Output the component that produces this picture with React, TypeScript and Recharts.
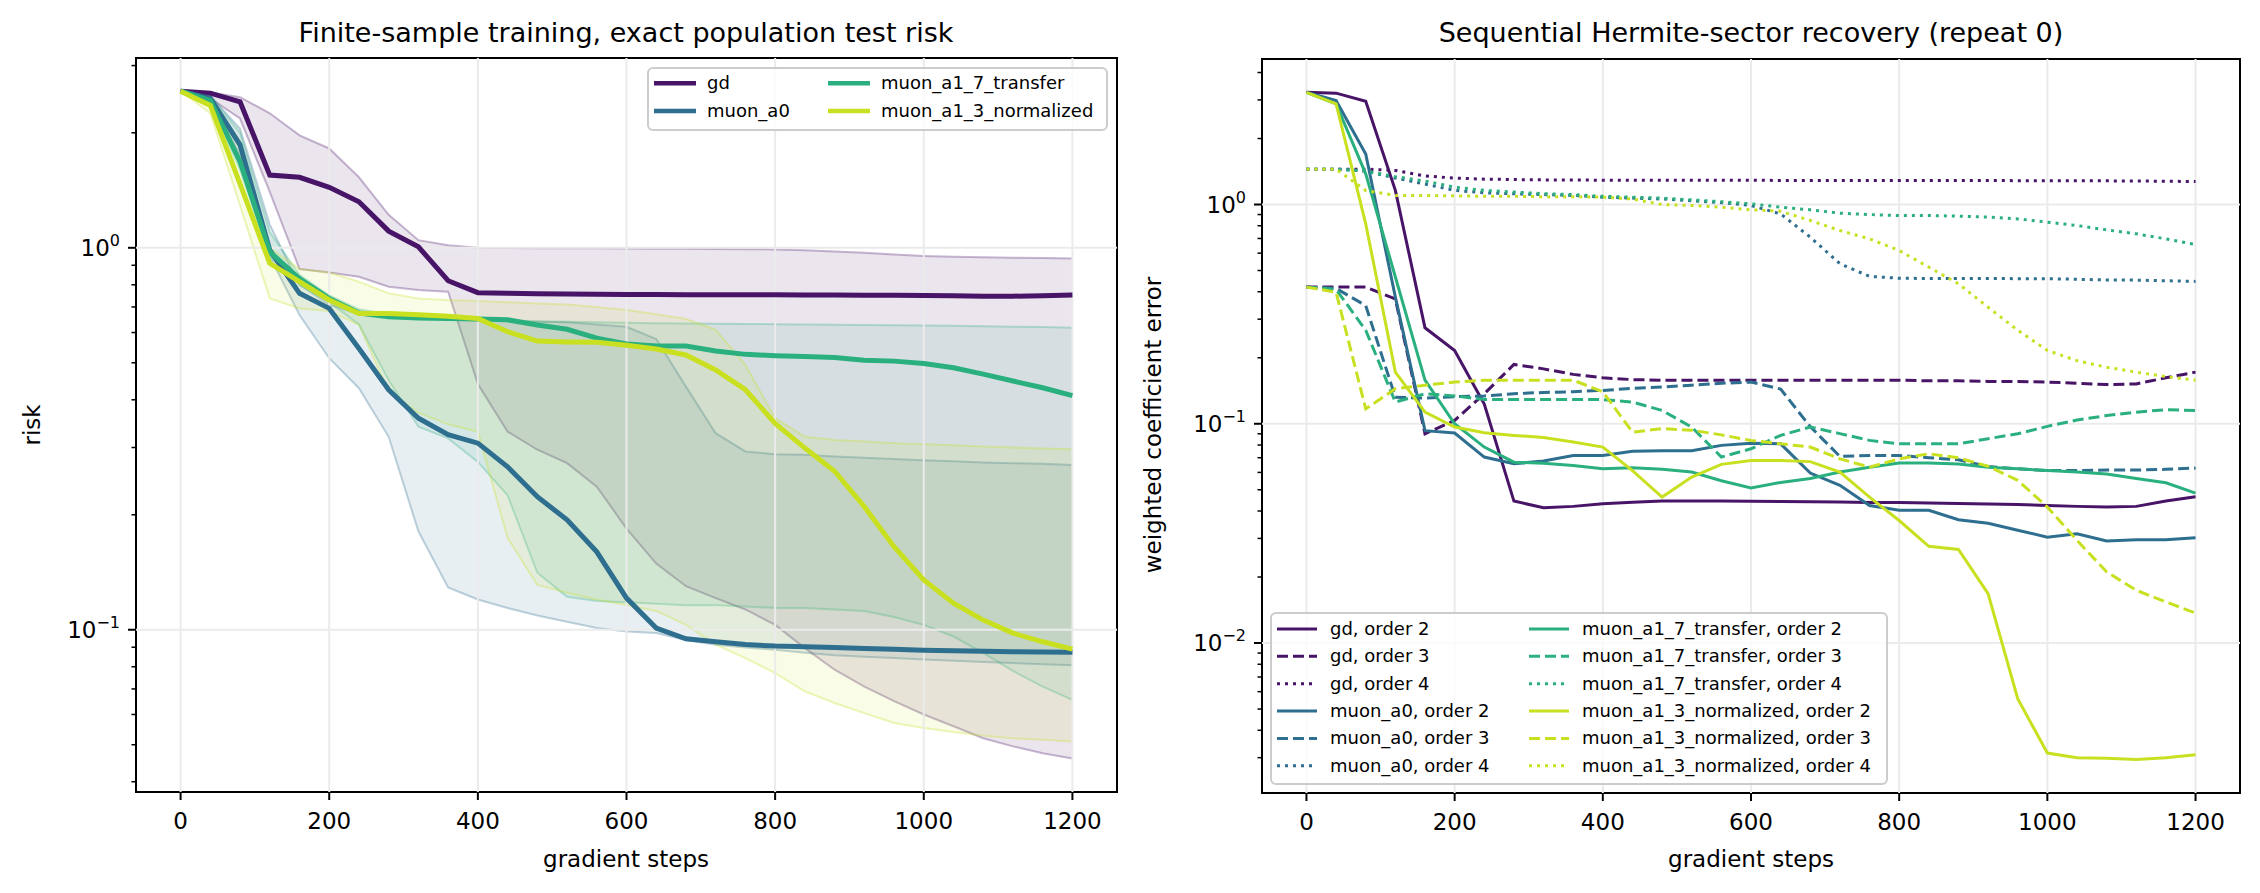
import React from 'react';
import { Area, ComposedChart, Line, ReferenceArea, ReferenceLine, XAxis, YAxis } from 'recharts';

// gradient steps (x)
const steps = [0, 40, 80, 120, 160, 200, 240, 280, 320, 360, 400, 440, 480, 520, 560, 600, 640, 680, 720, 760, 800, 840, 880, 920, 960, 1000, 1040, 1080, 1120, 1160, 1200];
const xTicks = [0, 200, 400, 600, 800, 1000, 1200];

// left panel: mean risk and band (lower / upper)
const gdMean = [2.57, 2.54, 2.41, 1.55, 1.53, 1.44, 1.32, 1.106, 1.006, 0.82, 0.763, 0.76, 0.758, 0.757, 0.756, 0.755, 0.755, 0.754, 0.754, 0.753, 0.753, 0.752, 0.752, 0.751, 0.751, 0.75, 0.749, 0.747, 0.747, 0.749, 0.752];
const gdUpper = [2.57, 2.55, 2.48, 2.25, 1.97, 1.82, 1.53, 1.22, 1.047, 1.016, 1.0, 0.999, 0.998, 0.998, 0.997, 0.996, 0.995, 0.994, 0.993, 0.992, 0.99, 0.985, 0.978, 0.97, 0.96, 0.952, 0.947, 0.944, 0.942, 0.94, 0.938];
const gdLower = [2.57, 2.46, 2.18, 1.4, 0.88, 0.862, 0.84, 0.791, 0.775, 0.767, 0.44, 0.33, 0.296, 0.273, 0.237, 0.184, 0.149, 0.13, 0.121, 0.113, 0.103, 0.0895, 0.0786, 0.071, 0.065, 0.06, 0.0559, 0.052, 0.0495, 0.0475, 0.046];

const a0Mean = [2.57, 2.46, 1.86, 0.986, 0.76, 0.694, 0.545, 0.425, 0.358, 0.324, 0.308, 0.267, 0.223, 0.194, 0.16, 0.121, 0.101, 0.0947, 0.093, 0.0915, 0.0906, 0.0902, 0.0898, 0.0893, 0.0889, 0.0884, 0.0881, 0.0878, 0.0876, 0.0874, 0.0873];
const a0Upper = [2.57, 2.5, 2.05, 1.15, 0.8, 0.71, 0.67, 0.665, 0.655, 0.65, 0.645, 0.642, 0.64, 0.638, 0.63, 0.621, 0.577, 0.433, 0.327, 0.293, 0.288, 0.287, 0.284, 0.282, 0.28, 0.278, 0.276, 0.274, 0.273, 0.272, 0.27];
const a0Lower = [2.57, 2.44, 1.75, 0.95, 0.667, 0.514, 0.429, 0.32, 0.181, 0.129, 0.12, 0.114, 0.109, 0.105, 0.101, 0.099, 0.098, 0.094, 0.0914, 0.0898, 0.0886, 0.087, 0.0857, 0.085, 0.0843, 0.0836, 0.083, 0.0823, 0.0818, 0.0812, 0.0807];

const trMean = [2.57, 2.43, 1.68, 0.976, 0.83, 0.737, 0.675, 0.66, 0.655, 0.653, 0.651, 0.648, 0.628, 0.612, 0.58, 0.56, 0.553, 0.553, 0.537, 0.526, 0.522, 0.519, 0.516, 0.508, 0.505, 0.498, 0.485, 0.467, 0.448, 0.43, 0.41];
const trUpper = [2.57, 2.5, 2.0, 1.1, 0.85, 0.75, 0.69, 0.67, 0.66, 0.655, 0.65, 0.645, 0.642, 0.64, 0.638, 0.636, 0.635, 0.634, 0.633, 0.632, 0.631, 0.63, 0.629, 0.628, 0.627, 0.626, 0.625, 0.623, 0.621, 0.62, 0.618];
const trLower = [2.57, 2.4, 1.6, 0.95, 0.8, 0.72, 0.63, 0.45, 0.34, 0.317, 0.275, 0.225, 0.141, 0.122, 0.119, 0.118, 0.117, 0.116, 0.116, 0.115, 0.114, 0.114, 0.113, 0.112, 0.108, 0.103, 0.096, 0.087, 0.078, 0.071, 0.0655];

const nmMean = [2.57, 2.36, 1.47, 0.91, 0.815, 0.73, 0.673, 0.673, 0.668, 0.662, 0.653, 0.603, 0.57, 0.567, 0.566, 0.556, 0.543, 0.524, 0.479, 0.425, 0.347, 0.299, 0.26, 0.21, 0.165, 0.135, 0.1174, 0.106, 0.098, 0.093, 0.089];
const nmUpper = [2.57, 2.45, 1.9, 1.0, 0.88, 0.862, 0.815, 0.76, 0.737, 0.73, 0.726, 0.72, 0.715, 0.71, 0.7, 0.687, 0.67, 0.651, 0.61, 0.493, 0.358, 0.32, 0.314, 0.311, 0.308, 0.306, 0.304, 0.302, 0.3, 0.298, 0.297];
const nmLower = [2.57, 2.25, 1.29, 0.737, 0.694, 0.683, 0.628, 0.42, 0.37, 0.345, 0.33, 0.174, 0.131, 0.125, 0.12, 0.116, 0.112, 0.103, 0.0914, 0.0843, 0.077, 0.069, 0.0643, 0.0605, 0.057, 0.0553, 0.054, 0.0528, 0.052, 0.0515, 0.051];

// right panel: weighted coefficient error per Hermite order
const gd2 = [3.25, 3.22, 2.96, 1.16, 0.274, 0.216, 0.123, 0.0444, 0.0414, 0.042, 0.0432, 0.0439, 0.0444, 0.0444, 0.0444, 0.0443, 0.0442, 0.0441, 0.044, 0.0438, 0.0437, 0.0435, 0.0433, 0.0431, 0.0428, 0.0424, 0.042, 0.0417, 0.042, 0.0444, 0.0465];
const gd3 = [0.42, 0.42, 0.42, 0.371, 0.09, 0.1036, 0.137, 0.1865, 0.178, 0.168, 0.162, 0.159, 0.158, 0.158, 0.158, 0.158, 0.158, 0.158, 0.158, 0.158, 0.158, 0.157, 0.157, 0.156, 0.156, 0.155, 0.153, 0.151, 0.152, 0.162, 0.172];
const gd4 = [1.45, 1.45, 1.45, 1.43, 1.35, 1.32, 1.305, 1.3, 1.295, 1.295, 1.29, 1.29, 1.29, 1.29, 1.29, 1.29, 1.288, 1.288, 1.288, 1.287, 1.287, 1.286, 1.286, 1.286, 1.285, 1.285, 1.284, 1.282, 1.28, 1.277, 1.273];
const a02 = [3.25, 2.98, 1.7, 0.378, 0.093, 0.0907, 0.0705, 0.0657, 0.0676, 0.0717, 0.0717, 0.075, 0.0753, 0.0753, 0.0797, 0.0816, 0.081, 0.0596, 0.0524, 0.0424, 0.0403, 0.0403, 0.0365, 0.0352, 0.0327, 0.0304, 0.0315, 0.0292, 0.0296, 0.0296, 0.0302];
const a03 = [0.42, 0.414, 0.346, 0.132, 0.131, 0.133, 0.134, 0.137, 0.139, 0.14, 0.142, 0.145, 0.147, 0.15, 0.153, 0.155, 0.144, 0.097, 0.071, 0.0717, 0.0717, 0.07, 0.0685, 0.0638, 0.0623, 0.0612, 0.0612, 0.0615, 0.0615, 0.062, 0.0628];
const a04 = [1.45, 1.45, 1.42, 1.32, 1.24, 1.16, 1.13, 1.12, 1.11, 1.1, 1.08, 1.07, 1.06, 1.04, 1.02, 0.99, 0.906, 0.71, 0.537, 0.47, 0.461, 0.46, 0.46, 0.46, 0.459, 0.459, 0.456, 0.453, 0.452, 0.449, 0.446];
const tr2 = [3.25, 2.88, 1.38, 0.467, 0.158, 0.1, 0.0783, 0.0668, 0.066, 0.0645, 0.0623, 0.063, 0.062, 0.0602, 0.055, 0.051, 0.054, 0.0563, 0.0602, 0.0634, 0.0662, 0.0662, 0.0655, 0.0634, 0.0623, 0.0612, 0.0602, 0.059, 0.0563, 0.0538, 0.0483];
const tr3 = [0.42, 0.41, 0.267, 0.1256, 0.137, 0.134, 0.129, 0.129, 0.129, 0.129, 0.129, 0.1256, 0.115, 0.0966, 0.0705, 0.0769, 0.0885, 0.0966, 0.0902, 0.084, 0.081, 0.081, 0.081, 0.0855, 0.09, 0.0973, 0.104, 0.109, 0.113, 0.116, 0.115];
const tr4 = [1.45, 1.45, 1.42, 1.34, 1.28, 1.2, 1.16, 1.14, 1.12, 1.11, 1.09, 1.08, 1.07, 1.05, 1.03, 1.007, 0.973, 0.946, 0.913, 0.9, 0.891, 0.891, 0.885, 0.876, 0.86, 0.831, 0.802, 0.766, 0.735, 0.697, 0.657];
const nm2 = [3.25, 2.88, 0.816, 0.172, 0.113, 0.0966, 0.091, 0.0885, 0.0866, 0.0825, 0.0783, 0.0612, 0.0463, 0.0571, 0.0653, 0.068, 0.068, 0.0672, 0.0602, 0.0463, 0.0362, 0.0276, 0.0267, 0.0168, 0.00557, 0.00315, 0.003, 0.00298, 0.00294, 0.003, 0.00309];
const nm3 = [0.42, 0.398, 0.117, 0.1445, 0.15, 0.155, 0.158, 0.158, 0.158, 0.158, 0.14, 0.0916, 0.095, 0.0935, 0.089, 0.0839, 0.081, 0.0783, 0.0692, 0.0634, 0.0692, 0.073, 0.0699, 0.064, 0.0552, 0.0417, 0.0294, 0.0211, 0.0174, 0.0154, 0.0137];
const nm4 = [1.45, 1.45, 1.158, 1.1, 1.1, 1.095, 1.09, 1.09, 1.085, 1.085, 1.08, 1.06, 1.0, 0.99, 0.972, 0.946, 0.932, 0.846, 0.761, 0.697, 0.617, 0.518, 0.435, 0.34, 0.267, 0.216, 0.194, 0.181, 0.172, 0.164, 0.158];

const leftYTicks = [0.04, 0.05, 0.06, 0.07, 0.08, 0.09, 0.1, 0.2, 0.3, 0.4, 0.5, 0.6, 0.7, 0.8, 0.9, 1, 2, 3];
const rightYTicks = [0.003, 0.004, 0.005, 0.006, 0.007, 0.008, 0.009, 0.01, 0.02, 0.03, 0.04, 0.05, 0.06, 0.07, 0.08, 0.09, 0.1, 0.2, 0.3, 0.4, 0.5, 0.6, 0.7, 0.8, 0.9, 1, 2, 3, 4];

const C_GD = '#481467';
const C_A0 = '#2e6e8e';
const C_TR = '#2ab07f';
const C_NM = '#c8e020';
const FONT = 'DejaVu Sans';
const DASHED = '11 5';
const DOTTED = '3 5';

const leftRows = steps.map((s, i) => ({
    step: s,
    gd: gdMean[i], gdBand: [gdLower[i], gdUpper[i]],
    a0: a0Mean[i], a0Band: [a0Lower[i], a0Upper[i]],
    tr: trMean[i], trBand: [trLower[i], trUpper[i]],
    nm: nmMean[i], nmBand: [nmLower[i], nmUpper[i]],
}));

const rightRows = steps.map((s, i) => ({
    step: s,
    gd2: gd2[i], gd3: gd3[i], gd4: gd4[i],
    a02: a02[i], a03: a03[i], a04: a04[i],
    tr2: tr2[i], tr3: tr3[i], tr4: tr4[i],
    nm2: nm2[i], nm3: nm3[i], nm4: nm4[i],
}));

const leftSeries = [
    { key: 'gd', band: 'gdBand', color: C_GD, name: 'gd' },
    { key: 'a0', band: 'a0Band', color: C_A0, name: 'muon_a0' },
    { key: 'tr', band: 'trBand', color: C_TR, name: 'muon_a1_7_transfer' },
    { key: 'nm', band: 'nmBand', color: C_NM, name: 'muon_a1_3_normalized' },
];

const rightSeries = [
    { key: 'gd2', color: C_GD, dash: undefined, name: 'gd, order 2' },
    { key: 'gd3', color: C_GD, dash: DASHED, name: 'gd, order 3' },
    { key: 'gd4', color: C_GD, dash: DOTTED, name: 'gd, order 4' },
    { key: 'a02', color: C_A0, dash: undefined, name: 'muon_a0, order 2' },
    { key: 'a03', color: C_A0, dash: DASHED, name: 'muon_a0, order 3' },
    { key: 'a04', color: C_A0, dash: DOTTED, name: 'muon_a0, order 4' },
    { key: 'tr2', color: C_TR, dash: undefined, name: 'muon_a1_7_transfer, order 2' },
    { key: 'tr3', color: C_TR, dash: DASHED, name: 'muon_a1_7_transfer, order 3' },
    { key: 'tr4', color: C_TR, dash: DOTTED, name: 'muon_a1_7_transfer, order 4' },
    { key: 'nm2', color: C_NM, dash: undefined, name: 'muon_a1_3_normalized, order 2' },
    { key: 'nm3', color: C_NM, dash: DASHED, name: 'muon_a1_3_normalized, order 3' },
    { key: 'nm4', color: C_NM, dash: DOTTED, name: 'muon_a1_3_normalized, order 4' },
];

const XTick = (props: any) => {
    const { x, y, payload } = props;
    return (
        <g>
            <line x1={x} x2={x} y1={y} y2={y + 8} stroke="#000" strokeWidth={2} />
            <text x={x} y={y + 37} textAnchor="middle" fontSize={23} fontFamily={FONT} fill="#000">{payload.value}</text>
        </g>
    );
};

const LogTick = (props: any) => {
    const { x, y, payload } = props;
    const lg = Math.log10(payload.value);
    const exp = Math.round(lg);
    const major = Math.abs(lg - exp) < 1e-6;
    return (
        <g>
            <line x1={x} x2={x - (major ? 8 : 4.5)} y1={y} y2={y} stroke="#000" strokeWidth={major ? 2 : 1.5} />
            {major && (
                <text x={x - 16} y={y + 8} textAnchor="end" fontSize={23} fontFamily={FONT} fill="#000">
                    10<tspan dy={-10} fontSize={16}>{exp === 0 ? '0' : '\u2212' + Math.abs(exp)}</tspan>
                </text>
            )}
        </g>
    );
};

const gridStroke = '#ebebeb';

const LeftPanel = () => (
    <ComposedChart width={1130} height={893} data={leftRows} margin={{ top: 58, right: 13, bottom: 0, left: 0 }}>
        <XAxis dataKey="step" type="number" domain={[-60, 1260]} ticks={xTicks} interval={0} height={101}
            axisLine={false} tickLine={false} tickSize={0} tickMargin={0} tick={<XTick />} allowDataOverflow />
        <YAxis scale="log" type="number" domain={[0.0376, 3.14]} ticks={leftYTicks} interval={0} width={136}
            axisLine={false} tickLine={false} tickSize={0} tickMargin={0} tick={<LogTick />} allowDataOverflow />
        {xTicks.map(t => <ReferenceLine key={'vx' + t} x={t} stroke={gridStroke} strokeWidth={2} />)}
        {[0.1, 1].map(t => <ReferenceLine key={'hy' + t} y={t} stroke={gridStroke} strokeWidth={2} />)}
        {leftSeries.map(s => [
            <Area key={s.band} dataKey={s.band} type="linear" fill={s.color} fillOpacity={0.11}
                stroke={s.color} strokeOpacity={0.3} strokeWidth={2} dot={false} activeDot={false} isAnimationActive={false} />,
            <Line key={s.key} dataKey={s.key} type="linear" stroke={s.color} strokeWidth={5}
                dot={false} activeDot={false} isAnimationActive={false} />,
        ])}
        <ReferenceArea x1={-60} x2={1260} y1={0.0376} y2={3.14} fill="none" stroke="#000" strokeWidth={2} ifOverflow="visible" />
    </ComposedChart>
);

const RightPanel = () => (
    <ComposedChart width={1130} height={893} data={rightRows} margin={{ top: 59, right: 20, bottom: 0, left: 0 }}>
        <XAxis dataKey="step" type="number" domain={[-60, 1260]} ticks={xTicks} interval={0} height={100}
            axisLine={false} tickLine={false} tickSize={0} tickMargin={0} tick={<XTick />} allowDataOverflow />
        <YAxis scale="log" type="number" domain={[0.00207, 4.61]} ticks={rightYTicks} interval={0} width={132}
            axisLine={false} tickLine={false} tickSize={0} tickMargin={0} tick={<LogTick />} allowDataOverflow />
        {xTicks.map(t => <ReferenceLine key={'vx' + t} x={t} stroke={gridStroke} strokeWidth={2} />)}
        {[0.01, 0.1, 1].map(t => <ReferenceLine key={'hy' + t} y={t} stroke={gridStroke} strokeWidth={2} />)}
        {rightSeries.map(s => (
            <Line key={s.key} dataKey={s.key} type="linear" stroke={s.color} strokeWidth={3}
                strokeDasharray={s.dash} dot={false} activeDot={false} isAnimationActive={false} />
        ))}
        <ReferenceArea x1={-60} x2={1260} y1={0.00207} y2={4.61} fill="none" stroke="#000" strokeWidth={2} ifOverflow="visible" />
    </ComposedChart>
);

const Overlay = () => (
    <svg width={2260} height={893} style={{ position: 'absolute', left: 0, top: 0, pointerEvents: 'none' }} fontFamily={FONT}>
        <text x={626} y={42} textAnchor="middle" fontSize={27}>Finite-sample training, exact population test risk</text>
        <text x={1751} y={42} textAnchor="middle" fontSize={27}>Sequential Hermite-sector recovery (repeat 0)</text>
        <text x={626} y={867} textAnchor="middle" fontSize={23}>gradient steps</text>
        <text x={1751} y={867} textAnchor="middle" fontSize={23}>gradient steps</text>
        <text transform="translate(32,425) rotate(-90)" textAnchor="middle" dy="0.35em" fontSize={23}>risk</text>
        <text transform="translate(1153,425) rotate(-90)" textAnchor="middle" dy="0.35em" fontSize={23}>weighted coefficient error</text>

        {/* left legend */}
        <rect x={648} y={68} width={459} height={62} rx={5} fill="#fff" fillOpacity={0.8} stroke="#cccccc" strokeWidth={2} />
        {leftSeries.map((s, i) => {
            const col = i < 2 ? 0 : 1;
            const row = i % 2;
            const hx = col === 0 ? 654 : 828;
            const ty = 83.3 + row * 27.7;
            return (
                <g key={s.key}>
                    <line x1={hx} x2={hx + 42} y1={ty} y2={ty} stroke={s.color} strokeWidth={4.5} />
                    <text x={hx + 53} y={ty + 6} fontSize={18}>{s.name}</text>
                </g>
            );
        })}

        {/* right legend */}
        <rect x={1271} y={613} width={616} height={171} rx={5} fill="#fff" fillOpacity={0.8} stroke="#cccccc" strokeWidth={2} />
        {rightSeries.map((s, i) => {
            const col = i < 6 ? 0 : 1;
            const row = i % 6;
            const hx = col === 0 ? 1277 : 1529;
            const ty = 629 + row * 27.35;
            return (
                <g key={s.key}>
                    <line x1={hx} x2={hx + 40} y1={ty} y2={ty} stroke={s.color} strokeWidth={3} strokeDasharray={s.dash} />
                    <text x={hx + 53} y={ty + 6} fontSize={18}>{s.name}</text>
                </g>
            );
        })}
    </svg>
);

const App = () => (
    <div style={{ position: 'absolute', left: 0, top: 0, width: 2260, height: 893, background: '#fff' }}>
        <div style={{ position: 'absolute', left: 0, top: 0 }}>
            <LeftPanel />
        </div>
        <div style={{ position: 'absolute', left: 1130, top: 0 }}>
            <RightPanel />
        </div>
        <Overlay />
    </div>
);

export default App;
